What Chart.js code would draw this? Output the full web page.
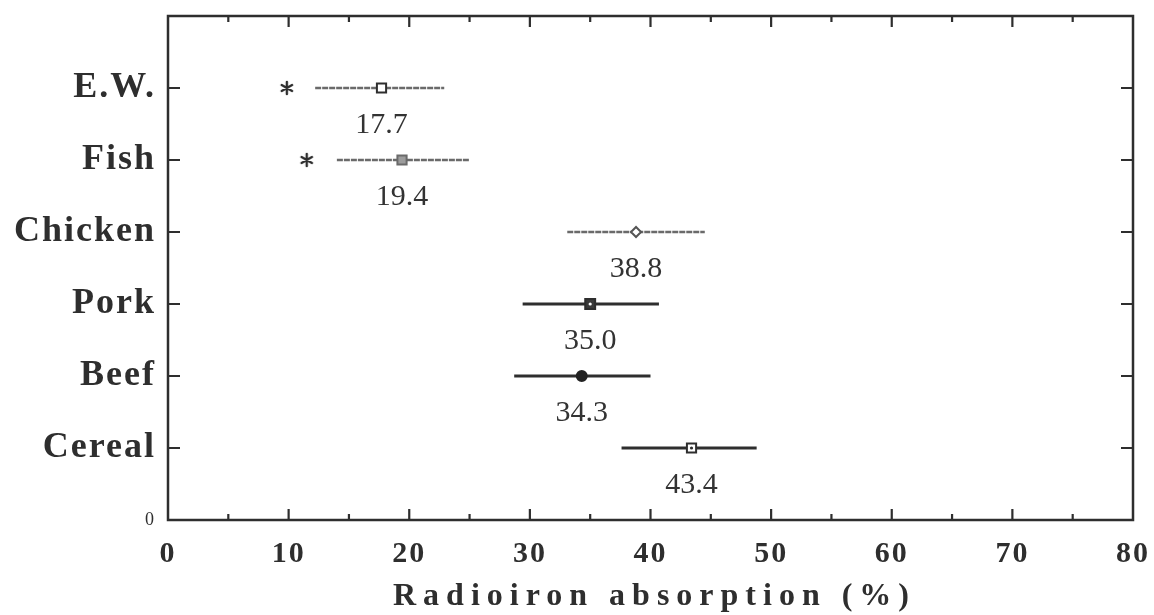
<!DOCTYPE html>
<html>
<head>
<meta charset="utf-8">
<script src="https://cdn.jsdelivr.net/npm/chart.js@4.4.1/dist/chart.umd.min.js"></script>
<style>
  body { margin: 0; background: #fff; }
  canvas { display: block; }
</style>
</head>
<body>
<canvas id="chart" width="1154" height="615"></canvas>
<script>
// categories top to bottom, placed at y = 6 .. 1
const categories = ['E.W.', 'Fish', 'Chicken', 'Pork', 'Beef', 'Cereal'];
const catPos = [6, 5, 4, 3, 2, 1];
const means = [17.7, 19.4, 38.8, 35.0, 34.3, 43.4];
const lows = [12.2, 14.0, 33.1, 29.4, 28.7, 37.6];
const highs = [22.9, 25.0, 44.5, 40.7, 40.0, 48.8];
// asterisks next to E.W. and Fish
const starX = [9.85, 11.5];
const starPos = [6, 5];
const xTicks = [0, 10, 20, 30, 40, 50, 60, 70, 80];
const xTitle = 'Radioiron absorption (%)';

const ink = '#2e2e2e';
const grey = '#6a6a6a';
const serif = "'Liberation Serif', 'DejaVu Serif', serif";

// six-armed asterisk like the typed '*'
function makeAsterisk() {
    const c = document.createElement('canvas');
    c.width = 16; c.height = 16;
    const g = c.getContext('2d');
    g.strokeStyle = ink;
    g.lineWidth = 2.4;
    g.lineCap = 'round';
    g.beginPath();
    for (let k = 0; k < 3; k++) {
        const a = Math.PI / 2 + k * Math.PI / 3;
        g.moveTo(8 + 6 * Math.cos(a), 8 + 6 * Math.sin(a));
        g.lineTo(8 - 6 * Math.cos(a), 8 - 6 * Math.sin(a));
    }
    g.stroke();
    return c;
}

// the first three groups are drawn with the grey wavy pen
const lineColors = [grey, grey, grey, ink, ink, ink];
const lineWidths = [2.6, 2.6, 2.6, 3, 3, 3];

const barSets = categories.map((c, i) => ({
    label: c,
    data: [{ x: lows[i], y: catPos[i] }, { x: highs[i], y: catPos[i] }],
    showLine: true,
    borderColor: lineColors[i],
    borderWidth: lineWidths[i],
    borderDash: i < 3 ? [6, 1] : [],
    pointRadius: 0,
    order: 3,
}));

const chart = new Chart(document.getElementById('chart'), {
    type: 'scatter',
    data: {
        datasets: [
            {
                label: 'dots',
                data: [{ x: means[3], y: catPos[3] }, { x: means[5], y: catPos[5] }],
                pointStyle: 'circle',
                pointRadius: 1.6,
                backgroundColor: ['#fff', ink],
                borderWidth: 0,
                order: 0,
            },
            {
                label: 'means',
                data: means.map((m, i) => ({ x: m, y: catPos[i] })),
                pointStyle: ['rect', 'rect', 'rectRot', 'rect', 'circle', 'rect'],
                pointRadius: [6.5, 6.5, 5, 7, 5, 6.5],
                backgroundColor: ['#fff', '#9c9c9c', '#fff', '#3a3a3a', '#222', '#fff'],
                borderColor: [ink, '#6a6a6a', '#555', ink, '#222', ink],
                borderWidth: 2,
                order: 1,
            },
            {
                label: 'stars',
                data: starX.map((x, i) => ({ x: x, y: starPos[i] })),
                pointStyle: makeAsterisk(),
                order: 1,
            },
            ...barSets,
        ],
    },
    options: {
        responsive: false,
        animation: false,
        events: [],
        layout: { padding: { left: 0, right: 21, top: 16, bottom: 0 } },
        plugins: { legend: { display: false }, tooltip: { enabled: false } },
        scales: {
            x: {
                type: 'linear',
                min: 0,
                max: 80,
                afterBuildTicks: (scale) => { scale.ticks = xTicks.map(v => ({ value: v })); },
                afterFit: (scale) => {
                    scale.height = 95;
                    scale.paddingLeft = 0;
                    scale.paddingRight = 0;
                },
                grid: { display: false, drawTicks: false },
                border: { display: false },
                ticks: {
                    padding: 16,
                    maxRotation: 0,
                    color: ink,
                    font: { family: serif, size: 30, weight: 'bold' },
                },
            },
            y: {
                type: 'linear',
                min: 0,
                max: 7,
                afterFit: (scale) => {
                    scale.width = 168;
                    scale.paddingTop = 0;
                    scale.paddingBottom = 0;
                },
                grid: { display: false, drawTicks: false },
                border: { display: false },
                ticks: {
                    stepSize: 1,
                    padding: 12,
                    color: ink,
                    callback: (v) => v === 0 ? '0' : (categories[catPos.indexOf(v)] || ''),
                    font: (ctx) => ctx.tick && ctx.tick.value === 0
                        ? { family: serif, size: 18, weight: 'normal' }
                        : { family: serif, size: 36, weight: 'bold' },
                },
            },
        },
    },
    plugins: [{
        id: 'frameAndText',
        beforeDraw(chart) {
            chart.ctx.letterSpacing = '2px';
        },
        beforeDatasetsDraw(chart) {
            chart.ctx.letterSpacing = '0px';
        },
        afterDatasetsDraw(chart) {
            const { ctx, chartArea: a, scales: { x, y } } = chart;
            ctx.save();
            ctx.strokeStyle = ink;
            ctx.lineWidth = 2.5;
            ctx.strokeRect(a.left, a.top, a.right - a.left, a.bottom - a.top);
            ctx.lineWidth = 2.2;
            ctx.beginPath();
            for (let v = 5; v < 80; v += 5) {
                const px = x.getPixelForValue(v);
                const len = v % 10 === 0 ? 11 : 6;
                ctx.moveTo(px, a.bottom); ctx.lineTo(px, a.bottom - len);
                ctx.moveTo(px, a.top); ctx.lineTo(px, a.top + len);
            }
            catPos.forEach(p => {
                const py = y.getPixelForValue(p);
                ctx.moveTo(a.left, py); ctx.lineTo(a.left + 12, py);
                ctx.moveTo(a.right, py); ctx.lineTo(a.right - 12, py);
            });
            ctx.stroke();

            // value labels under each bar
            ctx.fillStyle = '#333';
            ctx.font = '30px ' + serif;
            ctx.textAlign = 'center';
            ctx.textBaseline = 'middle';
            means.forEach((m, i) => {
                ctx.fillText(m.toFixed(1), x.getPixelForValue(m), y.getPixelForValue(catPos[i]) + 37);
            });

            // axis title
            ctx.letterSpacing = '7px';
            ctx.font = 'bold 32px ' + serif;
            ctx.fillStyle = ink;
            ctx.fillText(xTitle, (a.left + a.right) / 2 + 4, 597);
            ctx.restore();
        },
    }],
});
</script>
</body>
</html>
